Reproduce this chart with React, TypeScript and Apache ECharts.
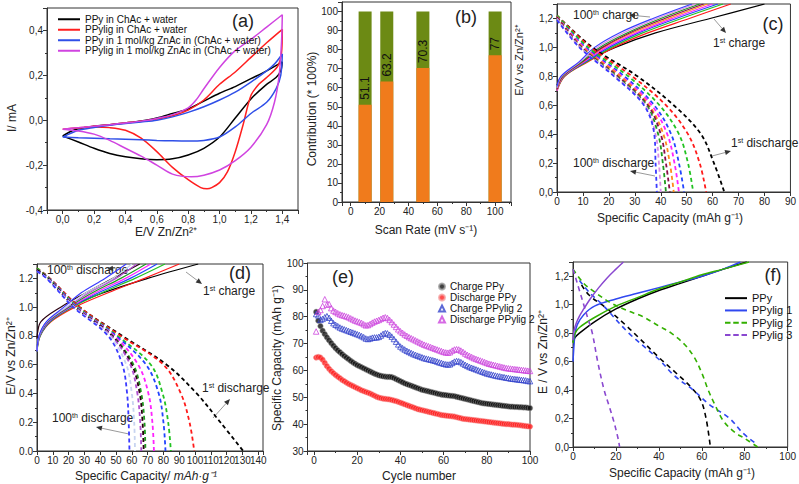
import React, { useEffect, useRef } from 'react';
import * as echarts from 'echarts';

type Pt = [number, number];
const FONT = '"Liberation Sans", Arial, Helvetica, sans-serif';

// ---------------- (a) cyclic voltammograms ----------------
const cvNames = [
  'PPy in ChAc + water',
  'PPylig in ChAc + water',
  'PPy in 1 mol/kg ZnAc in (ChAc + water)',
  'PPylig in 1 mol/kg ZnAc in (ChAc + water)',
];
const cvColors = ['#000000', '#ff1f1f', '#2f4fe8', '#d044e0'];
const cvPPyWater: Pt[] = [
  [0, -0.07], [0.05, -0.05], [0.1, -0.038], [0.2, -0.027], [0.3, -0.02], [0.4, -0.012], [0.5, -0.003],
  [0.6, 0.01], [0.7, 0.03], [0.8, 0.05], [0.9, 0.085], [1.0, 0.12], [1.1, 0.15], [1.2, 0.185], [1.3, 0.22], [1.4, 0.26],
  [1.39, 0.22], [1.36, 0.19], [1.3, 0.16], [1.2, 0.095], [1.1, 0.01], [1.0, -0.075], [0.9, -0.125], [0.8, -0.155],
  [0.7, -0.172], [0.6, -0.176], [0.5, -0.172], [0.4, -0.163], [0.3, -0.148], [0.2, -0.125], [0.1, -0.097], [0, -0.07],
];
const cvPPyligWater: Pt[] = [
  [0, -0.04], [0.1, -0.035], [0.2, -0.027], [0.3, -0.02], [0.4, -0.012], [0.5, -0.005], [0.6, 0.005], [0.7, 0.02],
  [0.8, 0.045], [0.9, 0.09], [1.0, 0.16], [1.1, 0.215], [1.2, 0.28], [1.3, 0.345], [1.4, 0.405],
  [1.395, 0.3], [1.37, 0.24], [1.3, 0.19], [1.25, 0.16], [1.2, 0.11], [1.15, -0.02], [1.1, -0.14], [1.05, -0.23],
  [1.0, -0.278], [0.95, -0.3], [0.92, -0.305], [0.88, -0.3], [0.8, -0.265], [0.7, -0.21], [0.6, -0.14],
  [0.5, -0.08], [0.4, -0.045], [0.3, -0.033], [0.2, -0.03], [0.1, -0.033], [0, -0.04],
];
const cvPPyZn: Pt[] = [
  [0, -0.075], [0.1, -0.045], [0.2, -0.032], [0.3, -0.022], [0.4, -0.015], [0.5, -0.008], [0.6, 0.0], [0.7, 0.015],
  [0.8, 0.035], [0.9, 0.06], [1.0, 0.09], [1.1, 0.125], [1.2, 0.17], [1.3, 0.22], [1.35, 0.25], [1.4, 0.295],
  [1.39, 0.2], [1.36, 0.14], [1.3, 0.08], [1.2, 0.03], [1.1, -0.03], [1.0, -0.075], [0.9, -0.09], [0.8, -0.093],
  [0.7, -0.092], [0.6, -0.09], [0.5, -0.087], [0.4, -0.085], [0.3, -0.083], [0.2, -0.08], [0.1, -0.078], [0, -0.075],
];
const cvPPyligZn: Pt[] = [
  [0, -0.04], [0.1, -0.033], [0.2, -0.027], [0.3, -0.02], [0.4, -0.012], [0.5, -0.004], [0.6, 0.008], [0.7, 0.025],
  [0.8, 0.055], [0.85, 0.09], [0.9, 0.14], [1.0, 0.235], [1.1, 0.31], [1.2, 0.36], [1.3, 0.415], [1.4, 0.47],
  [1.395, 0.35], [1.38, 0.2], [1.35, 0.08], [1.3, -0.02], [1.2, -0.12], [1.1, -0.18], [1.0, -0.222], [0.9, -0.245],
  [0.82, -0.252], [0.7, -0.24], [0.6, -0.2], [0.5, -0.16], [0.4, -0.125], [0.3, -0.09], [0.2, -0.062], [0.1, -0.048], [0, -0.04],
];
const cvCurves = [cvPPyWater, cvPPyligWater, cvPPyZn, cvPPyligZn];

// ---------------- (b) contribution bars ----------------
const scanRates = [10, 25, 50, 100];
const capacitive = [51.1, 63.2, 70.3, 77];
const totalContribution = [100, 100, 100, 100];
const barLabels = ['51.1', '63.2', '70.3', '77'];

// ---------------- (c) charge / discharge, PPy ----------------
const cycleColorsC = ['#000000', '#ff1a1a', '#22c322', '#2244ff', '#ff22ff', '#ff8a1a', '#8a0a4a', '#1f9a1f', '#d890e8', '#3a3aff'];
const cCharge: Pt[][] = [
  [[0, 0.74], [2, 0.8], [11, 0.9], [22.5, 1.0], [38, 1.1], [59, 1.2], [80, 1.3]],
  [[0, 0.7], [3, 0.8], [12, 0.9], [22, 1.0], [35, 1.1], [51, 1.2], [67, 1.3]],
  [[0, 0.7], [2.8, 0.8], [11.5, 0.9], [21, 1.0], [33, 1.1], [48, 1.2], [64, 1.3]],
  [[0, 0.71], [2.5, 0.8], [11, 0.9], [20, 1.0], [31.5, 1.1], [46, 1.2], [62, 1.3]],
  [[0, 0.7], [2.5, 0.8], [10.5, 0.9], [19, 1.0], [30.5, 1.1], [44.5, 1.2], [60, 1.3]],
  [[0, 0.71], [2.3, 0.8], [10, 0.9], [18, 1.0], [29, 1.1], [43, 1.2], [58, 1.3]],
  [[0, 0.71], [2.2, 0.8], [9.8, 0.9], [17.5, 1.0], [28, 1.1], [41.5, 1.2], [56.5, 1.3]],
  [[0, 0.72], [2, 0.8], [9.5, 0.9], [16.5, 1.0], [27, 1.1], [40, 1.2], [55, 1.3]],
  [[0, 0.72], [1.8, 0.8], [9, 0.9], [15.5, 1.0], [25.5, 1.1], [38.5, 1.2], [53.5, 1.3]],
  [[0, 0.73], [1.5, 0.8], [8.5, 0.9], [14.5, 1.0], [24, 1.1], [37, 1.2], [52, 1.3]],
];
const cDischarge: Pt[][] = [
  [[0, 1.22], [13.7, 1.0], [31, 0.8], [45, 0.6], [55.5, 0.4], [60.5, 0.2], [64.5, 0]],
  [[0, 1.22], [13, 1.0], [29, 0.8], [42, 0.6], [50.5, 0.4], [55, 0.2], [57.5, 0]],
  [[0, 1.22], [12, 1.0], [27.5, 0.8], [39.5, 0.6], [47, 0.4], [50.5, 0.2], [52.5, 0]],
  [[0, 1.21], [11, 1.0], [26, 0.8], [37.5, 0.6], [44, 0.4], [47, 0.2], [49, 0]],
  [[0, 1.21], [10.5, 1.0], [25, 0.8], [36.5, 0.6], [42.5, 0.4], [45.3, 0.2], [47, 0]],
  [[0, 1.21], [10, 1.0], [24.5, 0.8], [35.5, 0.6], [41, 0.4], [43.5, 0.2], [45, 0]],
  [[0, 1.21], [9.5, 1.0], [23.5, 0.8], [35, 0.6], [40, 0.4], [42, 0.2], [43.5, 0]],
  [[0, 1.2], [9.2, 1.0], [23, 0.8], [34.5, 0.6], [39, 0.4], [40.8, 0.2], [42, 0]],
  [[0, 1.2], [9, 1.0], [22.5, 0.8], [34, 0.6], [38, 0.4], [39.3, 0.2], [40, 0]],
  [[0, 1.19], [8.6, 1.0], [22, 0.8], [33.5, 0.6], [37.5, 0.4], [38, 0.2], [38.5, 0]],
];

// ---------------- (d) charge / discharge, PPylig ----------------
const cycleColorsD = ['#000000', '#ff1a1a', '#22c322', '#2244ff', '#ff22ff', '#1f9a1f', '#2a0010', '#b050d0', '#c8d4f0', '#3a3aff'];
const dCharge: Pt[][] = [
  [[0, 0.7], [1.5, 0.8], [7, 0.9], [21, 1.0], [42, 1.1], [70, 1.2], [102, 1.3]],
  [[0, 0.69], [2, 0.8], [9, 0.9], [24, 1.0], [45, 1.1], [68, 1.2], [90, 1.3]],
  [[0, 0.69], [2, 0.8], [8.5, 0.9], [22.5, 1.0], [41, 1.1], [62, 1.2], [81, 1.3]],
  [[0, 0.7], [1.8, 0.8], [8, 0.9], [21.5, 1.0], [39, 1.1], [59, 1.2], [76, 1.3]],
  [[0, 0.7], [1.6, 0.8], [7.5, 0.9], [21, 1.0], [37, 1.1], [56, 1.2], [72, 1.3]],
  [[0, 0.71], [1.5, 0.8], [7, 0.9], [20, 1.0], [35, 1.1], [53, 1.2], [69, 1.3]],
  [[0, 0.78], [0.3, 0.82], [2.5, 0.9], [15, 1.0], [31, 1.1], [48, 1.2], [65, 1.3]],
  [[0, 0.7], [1.4, 0.8], [6.5, 0.9], [19, 1.0], [33, 1.1], [50, 1.2], [63, 1.3]],
  [[0, 0.7], [1.3, 0.8], [6.2, 0.9], [18.5, 1.0], [31, 1.1], [48, 1.2], [60, 1.3]],
  [[0, 0.69], [1.2, 0.8], [6, 0.9], [17, 1.0], [28, 1.1], [43, 1.2], [56.5, 1.3]],
];
const dDischarge: Pt[][] = [
  [[0, 1.27], [8, 1.2], [27, 1.0], [54, 0.8], [82, 0.6], [101, 0.4], [116, 0.2], [130.5, 0]],
  [[0, 1.27], [8, 1.2], [27, 1.0], [53, 0.8], [80, 0.6], [91, 0.4], [96.5, 0.2], [99.5, 0]],
  [[0, 1.27], [7.5, 1.2], [26, 1.0], [51, 0.8], [72, 0.6], [79.5, 0.4], [83, 0.2], [84.7, 0]],
  [[0, 1.26], [7.5, 1.2], [25.5, 1.0], [50, 0.8], [69, 0.6], [77, 0.4], [80, 0.2], [81.3, 0]],
  [[0, 1.26], [7, 1.2], [25, 1.0], [49, 0.8], [64, 0.6], [70.5, 0.4], [73, 0.2], [74, 0]],
  [[0, 1.26], [7, 1.2], [24.5, 1.0], [48, 0.8], [61, 0.6], [66, 0.4], [68, 0.2], [68.6, 0]],
  [[0, 1.26], [7, 1.2], [24, 1.0], [47.5, 0.8], [60, 0.6], [65, 0.4], [66.8, 0.2], [67.5, 0]],
  [[0, 1.25], [6.5, 1.2], [24, 1.0], [47, 0.8], [59, 0.6], [63.5, 0.4], [65.3, 0.2], [66, 0]],
  [[0, 1.25], [6.5, 1.2], [23.5, 1.0], [46, 0.8], [56.5, 0.6], [60, 0.4], [61.5, 0.2], [62, 0]],
  [[0, 1.25], [6, 1.2], [23, 1.0], [45, 0.8], [54, 0.6], [57, 0.4], [58, 0.2], [58.5, 0]],
];

// ---------------- (e) cycling ----------------
const eNames = ['Charge PPy', 'Discharge PPy', 'Charge PPylig 2', 'Discharge PPylig 2'];
const chargePPy = [
  81.8, 78.5, 76.5, 74.8, 73.5, 72.3, 71.2, 70.2, 69.2, 68.3,
  67.5, 66.8, 66.1, 65.4, 64.8, 64.2, 63.6, 63.0, 62.5, 62.0,
  61.6, 61.2, 60.8, 60.4, 60.0, 59.6, 59.2, 58.8, 58.5, 58.2,
  58.0, 57.8, 57.7, 57.6, 57.6, 57.5, 57.2, 56.8, 56.4, 56.0,
  55.6, 55.2, 54.9, 54.6, 54.3, 54.0, 53.7, 53.4, 53.1, 52.8,
  52.6, 52.4, 52.2, 52.0, 51.8, 51.6, 51.4, 51.2, 51.0, 50.9,
  50.8, 50.7, 50.6, 50.5, 50.4, 50.2, 50.0, 49.8, 49.6, 49.4,
  49.2, 49.0, 48.8, 48.6, 48.4, 48.2, 48.0, 47.8, 47.7, 47.6,
  47.5, 47.4, 47.3, 47.2, 47.1, 47.0, 46.9, 46.8, 46.7, 46.6,
  46.5, 46.5, 46.4, 46.4, 46.3, 46.3, 46.2, 46.2, 46.1, 46.0,
];
const dischargePPy = [
  64.8, 65.0, 64.8, 64.0, 62.8, 61.6, 60.6, 59.7, 59.0, 58.3,
  57.7, 57.1, 56.5, 56.0, 55.5, 55.0, 54.6, 54.2, 53.8, 53.4,
  53.0, 52.6, 52.3, 52.0, 51.7, 51.4, 51.0, 50.6, 50.2, 49.9,
  49.7, 49.5, 49.4, 49.3, 49.2, 49.0, 48.8, 48.6, 48.3, 48.0,
  47.7, 47.4, 47.1, 46.8, 46.5, 46.2, 45.9, 45.6, 45.4, 45.2,
  45.0, 44.8, 44.6, 44.4, 44.2, 44.0, 43.8, 43.6, 43.4, 43.3,
  43.2, 43.1, 43.0, 42.9, 42.8, 42.6, 42.4, 42.2, 42.0, 41.9,
  41.8, 41.7, 41.6, 41.5, 41.4, 41.3, 41.2, 41.1, 41.0, 40.9,
  40.8, 40.7, 40.6, 40.5, 40.4, 40.3, 40.2, 40.1, 40.0, 40.0,
  39.9, 39.8, 39.8, 39.7, 39.6, 39.5, 39.4, 39.3, 39.2, 39.1,
];
const chargePPylig2 = [
  81.0, 80.5, 78.8, 79.2, 79.8, 80.2, 79.6, 78.5, 77.6, 77.0,
  76.5, 76.0, 75.6, 75.3, 75.0, 74.7, 74.4, 74.1, 73.8, 73.5,
  73.2, 72.8, 72.4, 71.9, 71.7, 71.9, 72.2, 72.3, 72.3, 72.5,
  73.0, 73.6, 73.9, 73.8, 73.3, 72.6, 71.7, 70.7, 69.7, 68.9,
  68.3, 67.8, 67.3, 66.9, 66.5, 66.1, 65.8, 65.5, 65.2, 64.9,
  64.6, 64.4, 64.2, 64.0, 63.8, 63.6, 63.3, 63.0, 62.8, 62.5,
  62.3, 62.2, 62.3, 62.8, 63.3, 63.5, 63.4, 63.1, 62.6, 62.1,
  61.7, 61.3, 61.0, 60.7, 60.4, 60.1, 59.8, 59.5, 59.2, 58.9,
  58.7, 58.5, 58.3, 58.1, 57.9, 57.8, 57.6, 57.5, 57.3, 57.2,
  57.0, 56.9, 56.8, 56.7, 56.6, 56.5, 56.4, 56.3, 56.1, 56.0,
];
const dischargePPylig2 = [
  74.5, 81.8, 82.5, 84.0, 86.5, 84.5, 84.7, 83.2, 82.3, 81.8,
  81.3, 80.9, 80.6, 80.4, 80.1, 79.8, 79.4, 79.0, 78.6, 78.3,
  78.0, 77.7, 77.2, 76.8, 76.9, 77.3, 77.8, 78.2, 78.5, 78.8,
  79.2, 79.6, 79.8, 79.5, 78.8, 78.0, 77.1, 76.2, 75.3, 74.6,
  74.0, 73.4, 72.9, 72.4, 72.0, 71.6, 71.2, 70.8, 70.4, 70.0,
  69.6, 69.3, 69.0, 68.7, 68.4, 68.1, 67.8, 67.5, 67.2, 66.9,
  66.7, 66.6, 66.8, 67.4, 67.8, 67.9, 67.8, 67.4, 66.9, 66.3,
  65.8, 65.4, 65.0, 64.6, 64.3, 64.0, 63.7, 63.4, 63.1, 62.8,
  62.5, 62.3, 62.1, 61.9, 61.7, 61.5, 61.3, 61.1, 60.9, 60.8,
  60.7, 60.6, 60.5, 60.4, 60.3, 60.2, 60.1, 60.0, 59.9, 59.8,
];
const eSeriesData = [chargePPy, dischargePPy, chargePPylig2, dischargePPylig2];

// ---------------- (f) comparison ----------------
const fNames = ['PPy', 'PPylig 1', 'PPylig 2', 'PPylig 3'];
const fColors = ['#000000', '#3048f0', '#33b000', '#8a48d0'];
const fChargePPy: Pt[] = [[0, 0.74], [1, 0.77], [3, 0.8], [10, 0.88], [20, 0.97], [30, 1.04], [40, 1.1], [50, 1.15], [60, 1.2], [70, 1.25], [81, 1.3]];
const fDischargePPy: Pt[] = [[4, 1.14], [7.3, 1.07], [16, 0.97], [25, 0.85], [30.5, 0.77], [40, 0.63], [48, 0.52], [55, 0.42], [59.5, 0.33], [62, 0.2], [64, 0]];
const fChargeLig1: Pt[] = [[0, 0.6], [0.5, 0.72], [1, 0.8], [2, 0.86], [5, 0.93], [10, 0.99], [20, 1.04], [30, 1.08], [40, 1.12], [50, 1.16], [60, 1.2], [70, 1.25], [78, 1.3]];
const fDischargeLig1: Pt[] = [[3, 1.17], [8, 1.08], [13.7, 1.0], [26, 0.8], [39.7, 0.62], [47.3, 0.5], [56, 0.4], [63.4, 0.3], [73, 0.2], [79, 0.1], [85.5, 0.02]];
const fChargeLig2: Pt[] = [[0, 0.73], [1, 0.8], [3, 0.84], [10, 0.91], [20, 0.99], [30, 1.05], [40, 1.11], [50, 1.16], [60, 1.21], [70, 1.25], [82, 1.3]];
const fDischargeLig2: Pt[] = [[0, 1.25], [5, 1.15], [10, 1.09], [16.8, 1.02], [25, 0.96], [32, 0.92], [40, 0.85], [45.8, 0.8], [52, 0.72], [56.5, 0.63], [60, 0.52], [63, 0.4], [66, 0.3], [70.2, 0.18], [75.6, 0.1], [80, 0.06], [86, 0]];
const fChargeLig3: Pt[] = [[0, 0.75], [0.5, 0.82], [1.5, 0.87], [3, 0.92], [5, 0.97], [8, 1.04], [12, 1.12], [16, 1.19], [20, 1.25], [23.5, 1.3]];
const fDischargeLig3: Pt[] = [[0, 1.25], [1, 1.2], [3, 1.1], [5, 1.0], [7, 0.9], [9, 0.8], [11.5, 0.6], [14.5, 0.4], [17, 0.28], [19, 0.18], [21, 0.06], [21.7, 0]];

// ---------------- helpers ----------------
const fmt = (step: number, dec: number, comma: boolean) => (v: number) => {
  const k = v / step;
  if (Math.abs(k - Math.round(k)) > 1e-6) return '';
  const s = v.toFixed(dec);
  return comma ? s.replace('.', ',') : s;
};

const axisBase = (gridIndex: number, min: number, max: number, extra: any = {}) => ({
  type: 'value',
  gridIndex,
  min,
  max,
  axisLine: { show: true, onZero: false, lineStyle: { color: '#333', width: 1 } },
  axisTick: { show: true, length: 4, lineStyle: { color: '#333' } },
  minorTick: { show: true, splitNumber: 2, length: 2, lineStyle: { color: '#333' } },
  splitLine: { show: false },
  ...extra,
  axisLabel: { color: '#222', fontSize: 10, fontFamily: FONT, margin: 4, ...(extra.axisLabel || {}) },
});

const SOLID_ICON = 'path://M0,0H24V2H0Z';
const DASH_ICON = 'path://M0,0H6V2H0Z M9,0H15V2H9Z M18,0H24V2H18Z';

const sup = { fontSize: 7, verticalAlign: 'top', fontFamily: FONT, fill: '#222' } as any;
const annText = (x: number, y: number, text: string) => ({
  type: 'text',
  x,
  y,
  style: {
    text,
    fontSize: 12,
    fontFamily: FONT,
    fill: '#222',
    textAlign: 'left',
    textVerticalAlign: 'middle',
    rich: { s: sup },
  },
});
const arrow = (x1: number, y1: number, x2: number, y2: number) => {
  const a = Math.atan2(y2 - y1, x2 - x1);
  const L = 6;
  const W = 2.6;
  const bx = x2 - L * Math.cos(a);
  const by = y2 - L * Math.sin(a);
  return [
    { type: 'line', shape: { x1, y1, x2: bx, y2: by }, style: { stroke: '#9a9a9a', lineWidth: 1 } },
    {
      type: 'polygon',
      shape: { points: [[x2, y2], [bx - W * Math.sin(a), by + W * Math.cos(a)], [bx + W * Math.sin(a), by - W * Math.cos(a)]] },
      style: { fill: '#333' },
    },
  ];
};
const title = (x: number, y: number, text: string, vertical = false, size = 12) => ({
  type: 'text',
  x,
  y,
  rotation: vertical ? Math.PI / 2 : 0,
  style: {
    text,
    fontSize: size,
    fontFamily: FONT,
    fill: '#222',
    textAlign: 'center',
    textVerticalAlign: 'middle',
    rich: { i: { fontSize: size, fontStyle: 'italic', fontFamily: FONT, fill: '#222' } },
  },
});

export default function App() {
  const ref = useRef<HTMLDivElement>(null);

  useEffect(() => {
    if (!ref.current) return;
    const chart = echarts.init(ref.current, undefined, { renderer: 'svg' });

    const grids = [
      { left: 47, top: 8, width: 251, height: 202 },
      { left: 342, top: 2, width: 169, height: 200 },
      { left: 557, top: 4, width: 236, height: 188 },
      { left: 37, top: 264, width: 226, height: 187 },
      { left: 307.5, top: 263, width: 222.5, height: 188 },
      { left: 573, top: 262, width: 218.5, height: 185 },
    ].map((g) => ({ ...g, show: true, borderColor: '#333', borderWidth: 1, backgroundColor: 'transparent' }));

    const xAxes = [
      axisBase(0, -0.1, 1.5, { splitNumber: 8, axisLabel: { formatter: fmt(0.2, 1, true) } }),
      axisBase(1, -6, 111, { splitNumber: 6, axisLabel: { formatter: fmt(20, 0, false) } }),
      axisBase(2, 0, 90, { interval: 10, minorTick: { show: false }, axisLabel: { formatter: fmt(10, 0, false) } }),
      axisBase(3, 0, 143, { interval: 10, minorTick: { show: false }, axisLabel: { formatter: fmt(10, 0, false) } }),
      axisBase(4, -3, 100, { splitNumber: 5, axisLabel: { formatter: fmt(20, 0, false) } }),
      axisBase(5, 0, 100, { interval: 20, axisLabel: { formatter: fmt(20, 0, false) } }),
    ];
    const yAxes = [
      axisBase(0, -0.4, 0.5, { interval: 0.2, axisLabel: { formatter: fmt(0.2, 1, true) } }),
      axisBase(1, 0, 105, { interval: 10, axisLabel: { formatter: fmt(10, 0, false) } }),
      axisBase(2, 0, 1.3, { interval: 0.2, axisLabel: { formatter: fmt(0.2, 1, true) } }),
      axisBase(3, 0, 1.3, { interval: 0.2, axisLabel: { formatter: fmt(0.2, 1, false) } }),
      axisBase(4, 30, 100, { interval: 10, axisLabel: { formatter: fmt(10, 0, false) } }),
      axisBase(5, 0, 1.3, { interval: 0.2, axisLabel: { formatter: fmt(0.2, 1, true) } }),
    ];

    const series: any[] = [];
    // (a)
    cvCurves.forEach((d, i) =>
      series.push({
        type: 'line', name: cvNames[i], xAxisIndex: 0, yAxisIndex: 0, data: d, symbol: 'none', smooth: 0.3,
        lineStyle: { color: cvColors[i], width: 1.5 }, itemStyle: { color: cvColors[i] },
      }),
    );
    // (b)
    series.push({
      type: 'bar', name: 'Diffusion', xAxisIndex: 1, yAxisIndex: 1, barWidth: 13, barGap: '-100%',
      data: scanRates.map((x, i) => [x, totalContribution[i]]), itemStyle: { color: '#6c8a14' },
    });
    series.push({
      type: 'bar', name: 'Capacitive', xAxisIndex: 1, yAxisIndex: 1, barWidth: 13, barGap: '-100%',
      data: scanRates.map((x, i) => [x, capacitive[i]]), itemStyle: { color: '#f07b1c' },
      label: {
        show: true, position: 'top', rotate: 90, align: 'left', verticalAlign: 'middle', distance: 5,
        formatter: (p: any) => barLabels[p.dataIndex], color: '#111', fontSize: 12, fontFamily: FONT,
      },
    });
    // (c)
    cCharge.forEach((d, i) =>
      series.push({
        type: 'line', name: `c charge ${i}`, xAxisIndex: 2, yAxisIndex: 2, data: d, symbol: 'none', smooth: 0.35,
        lineStyle: { color: cycleColorsC[i], width: 1.2 },
      }),
    );
    cDischarge.forEach((d, i) =>
      series.push({
        type: 'line', name: `c discharge ${i}`, xAxisIndex: 2, yAxisIndex: 2, data: d, symbol: 'none', smooth: 0.35,
        lineStyle: { color: cycleColorsC[i], width: 1.8, type: [4, 3] },
      }),
    );
    // (d)
    dCharge.forEach((d, i) =>
      series.push({
        type: 'line', name: `d charge ${i}`, xAxisIndex: 3, yAxisIndex: 3, data: d, symbol: 'none', smooth: 0.35,
        lineStyle: { color: cycleColorsD[i], width: 1.2 },
      }),
    );
    dDischarge.forEach((d, i) =>
      series.push({
        type: 'line', name: `d discharge ${i}`, xAxisIndex: 3, yAxisIndex: 3, data: d, symbol: 'none', smooth: 0.35,
        lineStyle: { color: cycleColorsD[i], width: 1.8, type: [4, 3] },
      }),
    );
    // (e)
    const eStyles = [
      { symbol: 'circle', itemStyle: { color: '#111', borderColor: '#9a9a9a', borderWidth: 0.6 } },
      { symbol: 'circle', itemStyle: { color: '#ff2020', borderColor: '#f5a0a0', borderWidth: 0.6 } },
      { symbol: 'triangle', itemStyle: { color: 'rgba(255,255,255,0)', borderColor: '#3444cc', borderWidth: 1 } },
      { symbol: 'triangle', itemStyle: { color: 'rgba(255,255,255,0)', borderColor: '#cc44dd', borderWidth: 1 } },
    ];
    eSeriesData.forEach((vals, i) =>
      series.push({
        type: 'scatter', name: eNames[i], xAxisIndex: 4, yAxisIndex: 4, symbolSize: 5.5,
        data: vals.map((v, k) => [k + 1, v]), ...eStyles[i],
      }),
    );
    // (f)
    const fPairs: [Pt[], Pt[]][] = [
      [fChargePPy, fDischargePPy],
      [fChargeLig1, fDischargeLig1],
      [fChargeLig2, fDischargeLig2],
      [fChargeLig3, fDischargeLig3],
    ];
    fPairs.forEach(([ch, dis], i) => {
      series.push({
        type: 'line', name: fNames[i], xAxisIndex: 5, yAxisIndex: 5, data: ch, symbol: 'none', smooth: 0.35,
        lineStyle: { color: fColors[i], width: 1.5 }, itemStyle: { color: fColors[i] },
      });
      series.push({
        type: 'line', name: fNames[i], xAxisIndex: 5, yAxisIndex: 5, data: dis, symbol: 'none', smooth: 0.35,
        lineStyle: { color: fColors[i], width: 1.6, type: [5, 4] }, itemStyle: { color: fColors[i] },
      });
    });

    const graphic: any[] = [
      // panel letters
      title(243, 21, '(a)', false, 18),
      title(466, 17, '(b)', false, 18),
      title(773, 24, '(c)', false, 18),
      title(240, 273, '(d)', false, 18),
      title(343, 277, '(e)', false, 18),
      title(773, 275, '(f)', false, 18),
      // axis titles
      title(166, 232, 'E/V Zn/Zn²⁺'),
      title(12, 118, 'I/ mA', true),
      title(426, 230, 'Scan Rate (mV s⁻¹)'),
      title(312, 109, 'Contribution (* 100%)', true),
      title(670, 218, 'Specific Capacity (mAh g⁻¹)'),
      title(519, 60, 'E/V vs Zn/Zn²⁺', true, 11),
      title(146, 476, 'Specific Capacity/ {i|mAh·g⁻¹}'),
      title(11, 356, 'E/V vs Zn/Zn²⁺', true),
      title(419, 476, 'Cycle number'),
      title(277, 358, 'Specific Capacity (mAh g⁻¹)', true),
      title(682, 473, 'Specific Capacity (mAh g⁻¹)'),
      title(543, 352, 'E / V vs Zn/Zn²⁺', true),
      // (c) annotations
      annText(573, 15, '100{s|th} charge'),
      ...arrow(650, 17, 629, 15),
      annText(713, 43, '1{s|st} charge'),
      ...arrow(714, 19, 726, 33),
      annText(731, 143, '1{s|st} discharge'),
      ...arrow(712, 156, 731, 151),
      annText(573, 163, '100{s|th} discharge'),
      ...arrow(655, 176, 630, 171),
      // (d) annotations
      annText(47, 270, '100{s|th} discharge'),
      ...arrow(117, 268, 107, 269),
      annText(203, 291, '1{s|st} charge'),
      ...arrow(186, 272, 202, 284),
      annText(202, 388, '1{s|st} discharge'),
      ...arrow(213, 418, 230, 399),
      annText(52, 418, '100{s|th} discharge'),
      ...arrow(129, 434, 96, 427),
    ];

    chart.setOption({
      animation: false,
      backgroundColor: '#ffffff',
      textStyle: { fontFamily: FONT },
      grid: grids,
      xAxis: xAxes,
      yAxis: yAxes,
      legend: [
        {
          data: cvNames.map((n) => ({ name: n, icon: SOLID_ICON })),
          left: 53, top: 9, orient: 'vertical', itemWidth: 22, itemHeight: 2, itemGap: 0, selectedMode: false, symbolKeepAspect: false,
          textStyle: { fontSize: 10, fontFamily: FONT, color: '#111', lineHeight: 10.5 },
        },
        {
          data: eNames, left: 433, top: 276, orient: 'vertical', itemWidth: 6, itemHeight: 6, itemGap: 0, selectedMode: false,
          textStyle: { fontSize: 10, fontFamily: FONT, color: '#111', lineHeight: 11 },
        },
        {
          data: fNames.map((n, i) => ({ name: n, icon: i >= 2 ? DASH_ICON : SOLID_ICON })),
          left: 720, top: 287, orient: 'vertical', itemWidth: 22, itemHeight: 2, itemGap: 0, selectedMode: false, symbolKeepAspect: false,
          textStyle: { fontSize: 11, fontFamily: FONT, color: '#111', lineHeight: 12.3 },
        },
      ],
      series,
      graphic,
    });

    return () => chart.dispose();
  }, []);

  return <div ref={ref} style={{ position: 'fixed', left: 0, top: 0, width: 799, height: 484 }} />;
}
